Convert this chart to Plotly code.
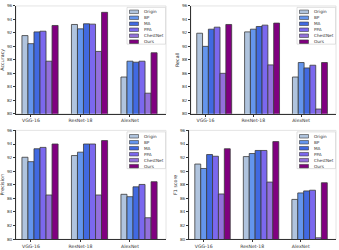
import plotly.graph_objects as go

W, H = 339, 250

models = ["VGG-16", "ResNet-18", "AlexNet"]
methods = ["Origin", "BP", "MA", "PPA", "ChestNet", "Ours"]
colors = ["#b0c4de", "#6495ed", "#4169e1", "#7b68ee", "#9370db", "#800080"]

# values per method (rows) for VGG-16, ResNet-18, AlexNet
accuracy = [
    [91.6, 93.25, 85.45],
    [90.4, 92.6, 87.8],
    [92.15, 93.35, 87.65],
    [92.25, 93.3, 87.8],
    [87.8, 89.25, 83.05],
    [93.1, 95.05, 89.05],
]
recall = [
    [91.95, 92.15, 85.45],
    [90.0, 92.55, 87.6],
    [92.55, 92.95, 86.8],
    [92.85, 93.15, 87.2],
    [86.0, 87.25, 80.7],
    [93.25, 93.45, 87.6],
]
precision = [
    [92.05, 92.3, 86.6],
    [91.4, 92.8, 86.25],
    [93.3, 94.0, 87.7],
    [93.5, 94.0, 88.05],
    [86.5, 86.5, 83.15],
    [94.0, 94.5, 88.45],
]
f1score = [
    [91.05, 92.15, 85.85],
    [90.4, 92.6, 86.8],
    [92.45, 93.05, 87.1],
    [92.2, 93.05, 87.2],
    [86.65, 88.4, 80.2],
    [93.3, 94.35, 88.3],
]
metric_names = ["Accuracy", "Recall", "Precision", "F1 score"]
metric_values = [accuracy, recall, precision, f1score]
y_ticks = [80, 82, 84, 86, 88, 90, 92, 94, 96]

# panel pixel boxes: (x0, x1, y0_top, y1_bottom)
panels = [(16, 166, 3, 113), (191, 336, 3, 113), (16, 166, 130, 241), (189, 336, 130, 241)]

bargap = 0.27
bw = (1 - bargap) / len(methods)
xpos = [0, 1, 2]

fig = go.Figure()
layout = dict(width=W, height=H, margin=dict(l=0, r=0, t=0, b=0),
              paper_bgcolor="white", plot_bgcolor="white",
              barmode="group", bargap=bargap, bargroupgap=0, showlegend=False,
              font=dict(family="DejaVu Sans", color="#333"))
shapes = []
annotations = []

for p, (name, vals) in enumerate(zip(metric_names, metric_values)):
    xa = "x" if p == 0 else f"x{p+1}"
    ya = "y" if p == 0 else f"y{p+1}"
    for m, meth in enumerate(methods):
        fig.add_trace(go.Bar(x=xpos, y=vals[m], name=meth, xaxis=xa, yaxis=ya,
                             marker=dict(color=colors[m], line=dict(color="#3a3a3a", width=0.8))))
    x0, x1, y0, y1 = panels[p]
    xk = "xaxis" if p == 0 else f"xaxis{p+1}"
    yk = "yaxis" if p == 0 else f"yaxis{p+1}"
    layout[xk] = dict(domain=[x0 / W, x1 / W], anchor=ya, range=[-0.485, 2.545],
                      tickvals=[v - 1.5 * bw for v in xpos], ticktext=models,
                      ticks="outside", ticklen=2, tickwidth=0.6, tickcolor="#333",
                      tickfont=dict(size=4.6, color="#333"),
                      showline=True, linecolor="#333", linewidth=0.8,
                      showgrid=False, zeroline=False)
    layout[yk] = dict(domain=[1 - y1 / H, 1 - y0 / H], anchor=xa, range=[80, 96],
                      tickvals=y_ticks, ticks="outside", ticklen=2, tickwidth=0.6,
                      tickcolor="#333", tickfont=dict(size=4.2, color="#333"),
                      showline=True, linecolor="#333", linewidth=0.8,
                      showgrid=False, zeroline=False,
                      title=dict(text=name, font=dict(size=4.8, color="#333"), standoff=2))
    # light frame
    shapes.append(dict(type="rect", xref="paper", yref="paper",
                       x0=x0 / W, x1=x1 / W, y0=1 - y1 / H, y1=1 - y0 / H,
                       line=dict(color="#dddddd", width=0.8), layer="below"))
    # legend box
    lx0, lx1 = x1 - 39, x1 - 0.5
    ly0, ly1 = y0 + 1.5, y0 + 39
    shapes.append(dict(type="rect", xref="paper", yref="paper",
                       x0=lx0 / W, x1=lx1 / W, y0=1 - ly1 / H, y1=1 - ly0 / H,
                       line=dict(color="#cccccc", width=0.6), fillcolor="white"))
    for m, meth in enumerate(methods):
        cy = y0 + 6 + m * 6.1
        shapes.append(dict(type="rect", xref="paper", yref="paper",
                           x0=(lx0 + 2.5) / W, x1=(lx0 + 11.5) / W,
                           y0=1 - (cy + 1.8) / H, y1=1 - (cy - 1.8) / H,
                           fillcolor=colors[m], line=dict(color="#3a3a3a", width=0.6)))
        annotations.append(dict(text=meth, xref="paper", yref="paper",
                                x=(lx0 + 14.5) / W, y=1 - cy / H, xanchor="left",
                                yanchor="middle", showarrow=False,
                                font=dict(size=4.2, color="#333")))

layout["shapes"] = shapes
layout["annotations"] = annotations
fig.update_layout(**layout)
fig.write_html("out.html", config={"displayModeBar": False},
               post_script="document.body.style.margin='0';")
